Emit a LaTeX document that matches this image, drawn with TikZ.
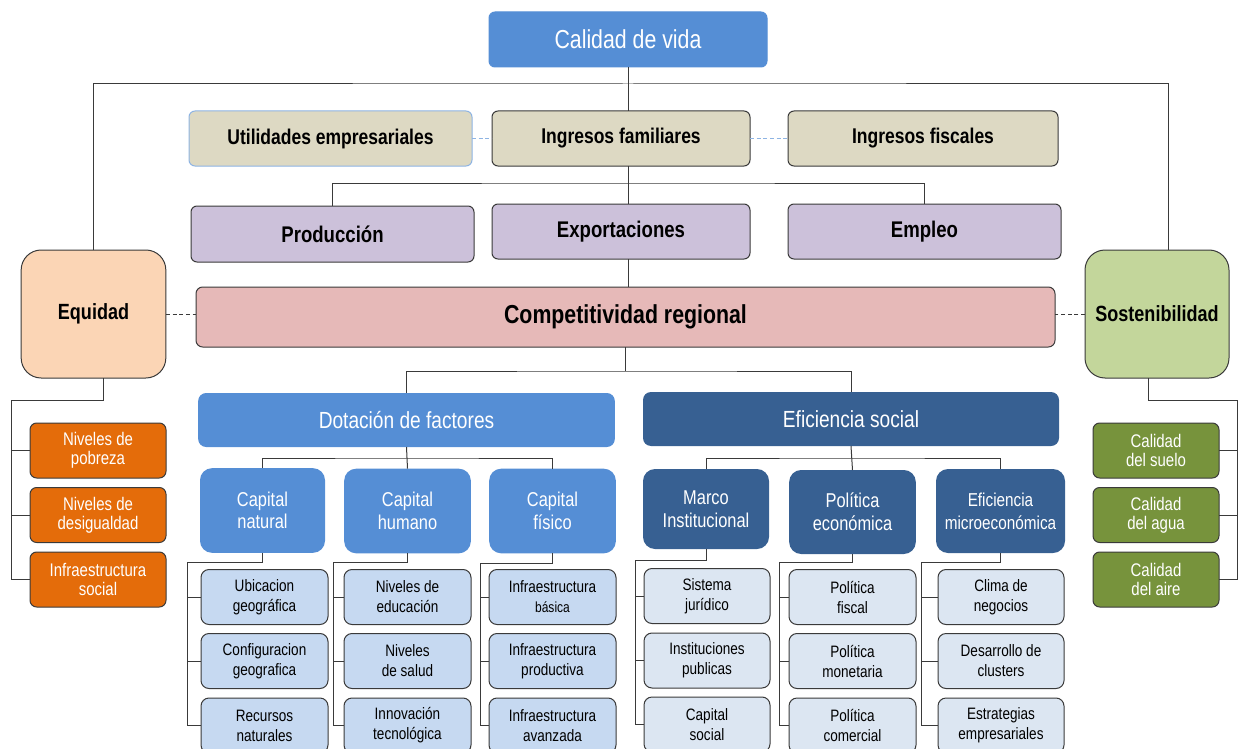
\documentclass[tikz,border=0pt]{standalone}
\usepackage{fontspec}
\setmainfont{Liberation Sans}[FakeStretch=0.82]

\definecolor{azul}{HTML}{558ED5}
\definecolor{azuloscuro}{HTML}{376092}
\definecolor{beige}{HTML}{DDD9C3}
\definecolor{lila}{HTML}{CCC1DA}
\definecolor{rosa}{HTML}{E6B9B8}
\definecolor{durazno}{HTML}{FBD5B5}
\definecolor{verdeclaro}{HTML}{C3D69B}
\definecolor{naranja}{HTML}{E46C0A}
\definecolor{oliva}{HTML}{77933C}
\definecolor{celeste}{HTML}{C6D9F1}
\definecolor{celestepal}{HTML}{DCE6F2}
\definecolor{bordeazul}{HTML}{8EB4E3}
\definecolor{gris}{HTML}{3A3A3A}

\tikzstyle{caja} = [inner sep = 1pt, outer sep = 0pt, align = center, line width = 0.75pt]
\tikzstyle{vida} = [caja, rounded corners = 4.5pt, fill = azul, draw = azul, text = white, minimum width = 208.5pt, minimum height = 41.25pt, font = \fontsize{19.5}{22}\selectfont]
\tikzstyle{ingreso} = [caja, rounded corners = 4.5pt, fill = beige, draw = gris, minimum height = 41.25pt, font = \fontsize{16}{19}\selectfont\bfseries]
\tikzstyle{motor} = [caja, rounded corners = 4.5pt, fill = lila, draw = gris, minimum height = 41.25pt, font = \fontsize{17}{20}\selectfont\bfseries]
\tikzstyle{compet} = [caja, rounded corners = 5pt, fill = rosa, draw = gris, minimum width = 644.25pt, minimum height = 45pt, font = \fontsize{19.5}{23}\selectfont\bfseries]
\tikzstyle{lado} = [caja, rounded corners = 15pt, draw = gris, minimum width = 108.5pt, minimum height = 96pt, font = \fontsize{16.5}{20}\selectfont\bfseries]
\tikzstyle{pilar} = [caja, rounded corners = 6pt, text = white, minimum width = 312.5pt, minimum height = 40.5pt, font = \fontsize{17.5}{20}\selectfont]
\tikzstyle{capital} = [caja, rounded corners = 9pt, text = white, minimum width = 95pt, minimum height = 63.5pt, font = \fontsize{15}{17}\selectfont]
\tikzstyle{indic} = [caja, rounded corners = 5pt, draw = gris, text = white, minimum height = 41.25pt, font = \fontsize{13.7}{14.5}\selectfont]
\tikzstyle{hoja} = [caja, rounded corners = 6pt, draw = gris, minimum width = 95.25pt, minimum height = 41.25pt, font = \fontsize{12.4}{15}\selectfont]
\tikzstyle{linea} = [line width = 0.75pt, draw = gris]
\tikzstyle{guion} = [line width = 0.75pt, dash pattern = on 3pt off 2pt]

\begin{document}
\begin{tikzpicture}[x = 0.75pt, y = -0.75pt]
    \useasboundingbox (0,0) rectangle (1239,749);
    \clip (0,0) rectangle (1239,749);

    % nivel superior
    \node [vida] (vida) at (628,39.5) {Calidad de vida};

    \node [ingreso, draw = bordeazul, minimum width = 212.25pt] (util) at (330.5,138.5) {Utilidades empresariales};
    \node [ingreso, minimum width = 193.5pt] (ifam) at (621,138.5) {Ingresos familiares};
    \node [ingreso, minimum width = 202.5pt] (ifis) at (923,138.5) {Ingresos fiscales};

    \node [motor, minimum width = 212.25pt, minimum height = 42pt] (prod) at (332.5,234) {Producción};
    \node [motor, minimum width = 193.5pt] (expo) at (621,231.5) {Exportaciones};
    \node [motor, minimum width = 204.75pt] (empl) at (924.5,231.5) {Empleo};

    \node [compet] (comp) at (625.5,317) {Competitividad regional};

    \node [lado, fill = durazno] (equi) at (93.5,314) {Equidad};
    \node [lado, fill = verdeclaro, minimum width = 108pt] (sost) at (1157,314) {Sostenibilidad};

    % pilares
    \node [pilar, fill = azul] (dota) at (406.5,420) {Dotación de factores};
    \node [pilar, fill = azuloscuro, minimum width = 312pt] (efic) at (851,419) {Eficiencia social};

    \node [capital, fill = azul, minimum width = 93.75pt] (capnat) at (262.5,510.5) {Capital\\natural};
    \node [capital, fill = azul] (caphum) at (407.5,511) {Capital\\humano};
    \node [capital, fill = azul] (capfis) at (552.5,511) {Capital\\físico};

    \node [capital, fill = azuloscuro, minimum width = 94.5pt, minimum height = 60pt] (marco) at (706,509) {Marco\\Institucional};
    \node [capital, fill = azuloscuro, minimum height = 63pt] (polit) at (852.5,512) {Política\\económica};
    \node [capital, fill = azuloscuro, minimum width = 96.75pt, minimum height = 63pt, font = \fontsize{14}{17}\selectfont] (micro) at (1000.5,511) {Eficiencia\\microeconómica};

    % indicadores laterales
    \node [indic, fill = naranja, minimum width = 102pt] (pob) at (98,450.5) {Niveles de\\pobreza};
    \node [indic, fill = naranja, minimum width = 102pt] (desig) at (98,515) {Niveles de\\desigualdad};
    \node [indic, fill = naranja, minimum width = 102pt] (isoc) at (98,579.5) {Infraestructura\\social};

    \node [indic, fill = oliva, minimum width = 94.5pt] (suelo) at (1156,450.5) {Calidad\\del suelo};
    \node [indic, fill = oliva, minimum width = 94.5pt] (agua) at (1156,515) {Calidad\\del agua};
    \node [indic, fill = oliva, minimum width = 94.5pt] (aire) at (1156,579.5) {Calidad\\del aire};

    % hojas
    \node [hoja, fill = celeste] (cn1) at (264.5,597) {Ubicacion\\geográfica};
    \node [hoja, fill = celeste] (cn2) at (264.5,661) {Configuracion\\geografica};
    \node [hoja, fill = celeste] (cn3) at (264.5,725.5) {Recursos\\naturales};

    \node [hoja, fill = celeste] (ch1) at (407.5,597) {Niveles de\\educación};
    \node [hoja, fill = celeste] (ch2) at (407.5,661) {Niveles\\de salud};
    \node [hoja, fill = celeste] (ch3) at (407.5,725.5) {Innovación\\tecnológica};

    \node [hoja, fill = celeste] (cf1) at (552.5,597) {Infraestructura\\{\fontsize{11}{13}\selectfont básica}};
    \node [hoja, fill = celeste] (cf2) at (552.5,661) {Infraestructura\\productiva};
    \node [hoja, fill = celeste] (cf3) at (552.5,725.5) {Infraestructura\\avanzada};

    \node [hoja, fill = celestepal, minimum width = 94.5pt] (mi1) at (707,596) {Sistema\\jurídico};
    \node [hoja, fill = celestepal, minimum width = 94.5pt] (mi2) at (707,660.5) {Instituciones\\publicas};
    \node [hoja, fill = celestepal, minimum width = 94.5pt] (mi3) at (707,724.5) {Capital\\social};

    \node [hoja, fill = celestepal] (pe1) at (852.5,597) {Política\\fiscal};
    \node [hoja, fill = celestepal] (pe2) at (852.5,661) {Política\\monetaria};
    \node [hoja, fill = celestepal] (pe3) at (852.5,725.5) {Política\\comercial};

    \node [hoja, fill = celestepal, minimum width = 94.5pt] (em1) at (1001,597) {Clima de\\negocios};
    \node [hoja, fill = celestepal, minimum width = 94.5pt] (em2) at (1001,661) {Desarrollo de\\clusters};
    \node [hoja, fill = celestepal, minimum width = 94.5pt] (em3) at (1001,725.5) {Estrategias\\empresariales};

    % puntos de union
    \coordinate (arriba) at (628,84);
    \coordinate (medio) at (628,183);
    \coordinate (abajo) at (625,371);
    \coordinate (dh) at (406.5,458);
    \coordinate (eh) at (851,458);
    \coordinate (eq1) at (103,400);
    \coordinate (eq2) at (11,400);
    \coordinate (so1) at (1148,400);
    \coordinate (so2) at (1237,400);
    \coordinate (cnb) at (187,562);
    \coordinate (chb) at (333,562);
    \coordinate (cfb) at (480,563);
    \coordinate (mib) at (635,560);
    \coordinate (peb) at (779,562);
    \coordinate (emb) at (921,562);

    % conectores
    \draw [linea] (vida.south) -- (vida.south |- ifam.north);
    \draw [linea] (vida.south |- ifam.south) -- (vida.south |- expo.north);
    \draw [linea] (vida.south |- expo.south) -- (vida.south |- comp.north);
    \draw [linea] (equi.north) |- (arriba) -| ([xshift = 8.25pt]sost.north);
    \draw [linea] (prod.north) |- (medio) -| (empl.north);
    \draw [linea] (comp.south -| abajo) -- (abajo);
    \draw [linea] (dota.north) |- (abajo) -| (efic.north);

    \draw [guion, bordeazul] (util.east) -- (ifam.west);
    \draw [guion, bordeazul] (ifam.east) -- (ifis.west);
    \draw [guion, gris] (equi.east) -- (equi.east -| comp.west);
    \draw [guion, gris] (sost.west) -- (sost.west -| comp.east);

    \draw [linea] (equi.south -| eq1) -- (eq1) -- (eq2) |- (isoc.west);
    \draw [linea] (eq2 |- pob.west) -- (pob.west);
    \draw [linea] (eq2 |- desig.west) -- (desig.west);
    \draw [linea] (sost.south -| so1) -- (so1) -- (so2) |- (aire.east);
    \draw [linea] (so2 |- suelo.east) -- (suelo.east);
    \draw [linea] (so2 |- agua.east) -- (agua.east);

    \draw [linea] (dota.south) -- (caphum.north);
    \draw [linea] (capnat.north) |- (dh) -| (capfis.north);
    \draw [linea] (efic.south) -- (polit.north);
    \draw [linea] (marco.north) |- (eh) -| (micro.north);

    \draw [linea] (capnat.south) |- (cnb) |- (cn3.west);
    \draw [linea] (cnb |- cn1.west) -- (cn1.west);
    \draw [linea] (cnb |- cn2.west) -- (cn2.west);
    \draw [linea] (caphum.south) |- (chb) |- (ch3.west);
    \draw [linea] (chb |- ch1.west) -- (ch1.west);
    \draw [linea] (chb |- ch2.west) -- (ch2.west);
    \draw [linea] (capfis.south) |- (cfb) |- (cf3.west);
    \draw [linea] (cfb |- cf1.west) -- (cf1.west);
    \draw [linea] (cfb |- cf2.west) -- (cf2.west);
    \draw [linea] (marco.south) |- (mib) |- (mi3.west);
    \draw [linea] (mib |- mi1.west) -- (mi1.west);
    \draw [linea] (mib |- mi2.west) -- (mi2.west);
    \draw [linea] (polit.south) |- (peb) |- (pe3.west);
    \draw [linea] (peb |- pe1.west) -- (pe1.west);
    \draw [linea] (peb |- pe2.west) -- (pe2.west);
    \draw [linea] (micro.south) |- (emb) |- (em3.west);
    \draw [linea] (emb |- em1.west) -- (em1.west);
    \draw [linea] (emb |- em2.west) -- (em2.west);
\end{tikzpicture}
\end{document}
